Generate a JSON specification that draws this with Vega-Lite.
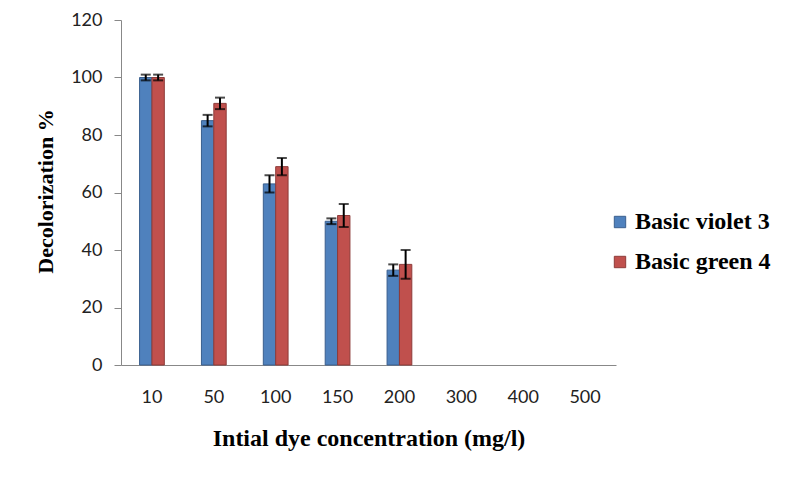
{
  "$schema": "https://vega.github.io/schema/vega-lite/v6.json",
  "width": 495,
  "height": 345,
  "autosize": {"type": "none"},
  "padding": {"left": 121, "top": 20, "right": 179, "bottom": 117},
  "background": "white",
  "config": {
    "view": {"stroke": null},
    "axis": {"grid": false, "domainColor": "#888888", "tickColor": "#888888", "labelFont": "Lato", "labelFontSize": 18, "labelColor": "#222222", "titleFont": "Liberation Serif", "titleFontSize": 21, "titleFontWeight": "bold", "titleColor": "#000000"},
    "legend": {"labelFont": "Liberation Serif", "labelFontSize": 24, "labelFontWeight": "bold", "labelColor": "#000000"}
  },
  "data": {
    "values": [
      {"conc": 10, "series": "Basic violet 3", "value": 100, "lo": 99, "hi": 101},
      {"conc": 10, "series": "Basic green 4", "value": 100, "lo": 99, "hi": 101},
      {"conc": 50, "series": "Basic violet 3", "value": 85, "lo": 83, "hi": 87},
      {"conc": 50, "series": "Basic green 4", "value": 91, "lo": 89, "hi": 93},
      {"conc": 100, "series": "Basic violet 3", "value": 63, "lo": 60, "hi": 66},
      {"conc": 100, "series": "Basic green 4", "value": 69, "lo": 66, "hi": 72},
      {"conc": 150, "series": "Basic violet 3", "value": 50, "lo": 49, "hi": 51},
      {"conc": 150, "series": "Basic green 4", "value": 52, "lo": 48, "hi": 56},
      {"conc": 200, "series": "Basic violet 3", "value": 33, "lo": 31, "hi": 35},
      {"conc": 200, "series": "Basic green 4", "value": 35, "lo": 30, "hi": 40}
    ]
  },
  "encoding": {
    "x": {
      "field": "conc", "type": "ordinal",
      "scale": {"domain": [10, 50, 100, 150, 200, 300, 400, 500], "paddingInner": 0.6, "paddingOuter": 0.3},
      "axis": {"title": "Intial dye concentration (mg/l)", "titleFontSize": 24, "labelAngle": 0, "ticks": false, "labelPadding": 23, "titleY": 61, "titleBaseline": "top"}
    },
    "xOffset": {"field": "series", "type": "nominal", "scale": {"domain": ["Basic violet 3", "Basic green 4"]}}
  },
  "layer": [
    {
      "mark": {"type": "bar", "strokeWidth": 1},
      "encoding": {
        "y": {"field": "value", "type": "quantitative", "scale": {"domain": [0, 120]},
          "axis": {"values": [0, 20, 40, 60, 80, 100, 120], "tickSize": 7, "labelPadding": 12, "title": "Decolorization %", "titleFontSize": 22, "titleX": -64, "titleY": 171, "titleBaseline": "bottom"}},
        "fill": {"field": "series", "type": "nominal", "scale": {"domain": ["Basic violet 3", "Basic green 4"], "range": ["#4f81bd", "#c0504d"]},
          "legend": {"title": null, "orient": "none", "legendX": 487, "legendY": 190, "symbolType": "square", "symbolSize": 130, "symbolStrokeWidth": 1, "rowPadding": 16, "labelOffset": 3}},
        "stroke": {"field": "series", "type": "nominal", "scale": {"domain": ["Basic violet 3", "Basic green 4"], "range": ["#3a5f8e", "#8e3b39"]}, "legend": {"title": null, "orient": "none", "legendX": 487, "legendY": 190, "symbolType": "square", "symbolSize": 130, "rowPadding": 16, "labelOffset": 3}}
      }
    },
    {
      "mark": {"type": "rule", "color": "#000000", "strokeWidth": 2},
      "encoding": {
        "y": {"field": "lo", "type": "quantitative"},
        "y2": {"field": "hi"}
      }
    },
    {
      "mark": {"type": "tick", "color": "#000000", "thickness": 2, "size": 10},
      "encoding": {"y": {"field": "lo", "type": "quantitative"}}
    },
    {
      "mark": {"type": "tick", "color": "#000000", "thickness": 2, "size": 10},
      "encoding": {"y": {"field": "hi", "type": "quantitative"}}
    }
  ]
}
